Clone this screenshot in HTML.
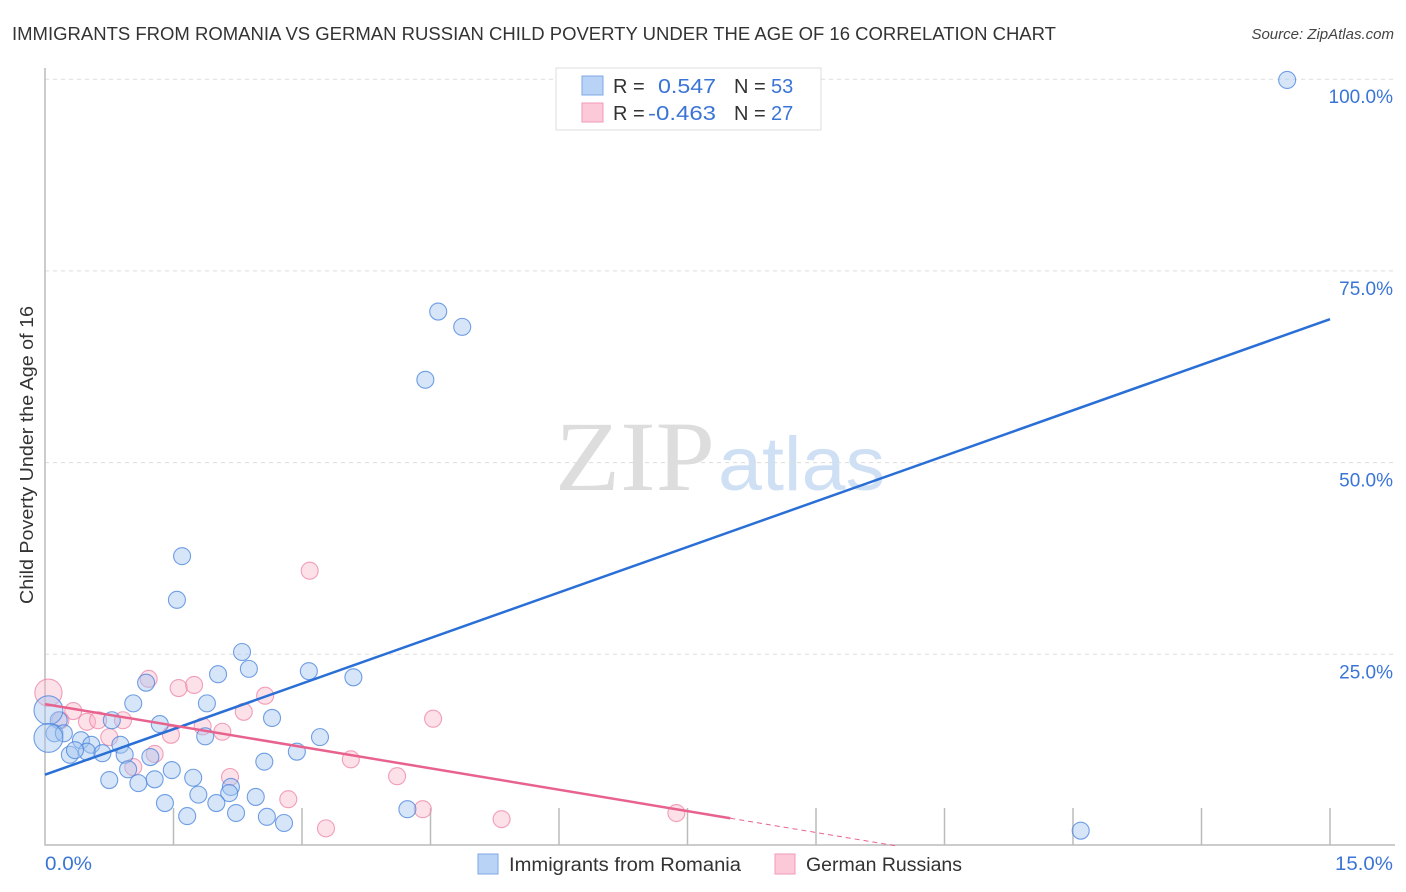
<!DOCTYPE html>
<html><head><meta charset="utf-8"><style>
body{margin:0;background:#fff;font-family:"Liberation Sans",sans-serif;}
svg{display:block}
</style></head><body>
<svg id="chart" width="1406" height="892">
<text x="12" y="40" font-size="18" fill="#333" textLength="1044" lengthAdjust="spacingAndGlyphs">IMMIGRANTS FROM ROMANIA VS GERMAN RUSSIAN CHILD POVERTY UNDER THE AGE OF 16 CORRELATION CHART</text>
<text x="1394" y="39" font-size="15" font-style="italic" fill="#444" text-anchor="end">Source: ZipAtlas.com</text>
<g>
<text x="555" y="490" font-size="100" font-family="Liberation Serif,serif" fill="#ddd" textLength="160" lengthAdjust="spacingAndGlyphs">ZIP</text>
<text x="718" y="490" font-size="76" fill="#cfe0f5" textLength="167" lengthAdjust="spacingAndGlyphs">atlas</text>
</g>
<g id="grid"></g>
<g id="axes"></g>
<g id="marks"></g>
<g>
<rect x="556" y="68" width="265" height="62" fill="#fff" stroke="#ddd"/>
<rect x="582" y="76" width="21" height="19" fill="#b8d3f5" stroke="#7fa9e6"/>
<rect x="582" y="103" width="21" height="19" fill="#fcc9d8" stroke="#f09ab4"/>
<text x="613" y="93" font-size="20" fill="#333">R =</text>
<text x="658" y="93" font-size="20" fill="#3a75d6" textLength="58" lengthAdjust="spacingAndGlyphs">0.547</text>
<text x="734" y="93" font-size="20" fill="#333">N =</text>
<text x="771" y="93" font-size="20" fill="#3a75d6">53</text>
<text x="613" y="120" font-size="20" fill="#333">R =</text>
<text x="648" y="120" font-size="20" fill="#3a75d6" textLength="68" lengthAdjust="spacingAndGlyphs">-0.463</text>
<text x="734" y="120" font-size="20" fill="#333">N =</text>
<text x="771" y="120" font-size="20" fill="#3a75d6">27</text>
</g>
<text transform="translate(33,455) rotate(-90)" font-size="18" fill="#333" text-anchor="middle" textLength="298" lengthAdjust="spacingAndGlyphs">Child Poverty Under the Age of 16</text>
<text x="45" y="870" font-size="19" fill="#3a75d6" textLength="47" lengthAdjust="spacingAndGlyphs">0.0%</text>
<text x="1393" y="870" font-size="19" fill="#3a75d6" text-anchor="end" textLength="58" lengthAdjust="spacingAndGlyphs">15.0%</text>
<g>
<rect x="478" y="854" width="20" height="20" fill="#b8d3f5" stroke="#7fa9e6"/>
<text x="509" y="871" font-size="19" fill="#333" textLength="232" lengthAdjust="spacingAndGlyphs">Immigrants from Romania</text>
<rect x="775" y="854" width="20" height="20" fill="#fcc9d8" stroke="#f09ab4"/>
<text x="806" y="871" font-size="19" fill="#333" textLength="156" lengthAdjust="spacingAndGlyphs">German Russians</text>
</g>
</svg>
<script>
const yTicks=[25,50,75,100];
const yTickLabels=["25.0%","50.0%","75.0%","100.0%"];
const blueX=[14.50,4.59,4.87,4.44,1.60,1.54,2.30,2.38,2.02,3.08,3.60,1.18,1.03,1.89,2.65,0.78,1.34,0.16,0.11,0.22,1.87,3.21,0.42,0.54,0.88,0.29,0.49,0.67,0.93,1.23,2.94,2.56,0.97,1.48,1.28,0.75,1.73,1.09,2.17,2.15,1.79,2.46,2.00,1.40,4.23,2.23,1.66,2.59,2.79,12.09,0.04,0.04,0.35];
const blueY=[99.9,69.7,67.7,60.8,37.8,32.1,25.3,23.1,22.4,22.8,22.0,21.3,18.6,18.6,16.7,16.4,15.9,16.4,14.7,14.7,14.3,14.2,13.8,13.2,13.2,11.9,12.3,12.1,11.9,11.6,12.3,11.0,10.0,9.9,8.7,8.6,8.9,8.2,7.7,6.9,6.7,6.4,5.6,5.6,4.8,4.3,3.9,3.8,3.0,2.0,17.7,14.1,12.5];
const blueW=[1,1,1,1,1,1,1,1,1,1,1,1,1,1,1,1,1,1,1,1,1,1,1,1,1,1,1,1,1,1,1,1,1,1,1,1,1,1,1,1,1,1,1,1,1,1,1,1,1,1,1.7,1.7,1];
const pinkX=[3.09,1.21,1.74,1.56,2.57,0.04,0.33,2.32,4.53,0.49,0.91,0.62,1.84,2.07,1.47,0.75,1.28,1.03,3.57,2.16,4.11,2.84,4.41,3.28,5.33,7.37,0.18];
const pinkY=[35.9,21.8,21.0,20.6,19.6,20.0,17.6,17.5,16.6,16.2,16.4,16.4,15.6,14.9,14.5,14.2,12.0,10.3,11.3,9.0,9.1,6.1,4.8,2.3,3.5,4.3,16.4];
const pinkW=[1,1,1,1,1,1.6,1,1,1,1,1,1,1,1,1,1,1,1,1,1,1,1,1,1,1,1,1];
const blueTrend=[9.3,68.7];
const pinkTrend=[18.5,-1.86];
const NS="http://www.w3.org/2000/svg";
const X=v=>45+v*(1285/15);
const Y=v=>846-v*7.668;
function mk(tag,attrs,parent){const e=document.createElementNS(NS,tag);for(const k in attrs)e.setAttribute(k,attrs[k]);parent.appendChild(e);return e;}
const grid=document.getElementById('grid'),axes=document.getElementById('axes'),marks=document.getElementById('marks');
yTicks.forEach((t,i)=>{
 const l=mk('line',{x1:45,x2:1395,y1:Y(t),y2:Y(t),stroke:'#ddd','stroke-dasharray':'4,4'},grid);
 
 
 const tx=mk('text',{x:1393,y:Y(t)+24,'font-size':19,fill:'#3a75d6','text-anchor':'end'},grid);
 tx.textContent=yTickLabels[i];
 
 
});
const ax=mk('path',{d:'M45,68V845H1395',stroke:'#bbb',fill:'none','stroke-width':1.5},axes);


for(let i=1;i<=10;i++){
 const t=mk('line',{x1:X(i*1.5),x2:X(i*1.5),y1:808,y2:845,stroke:'#bbb','stroke-width':1.5},axes);
 
 
}
function dots(xs,ys,ws,fill,stroke,name){
 xs.forEach((x,i)=>{
  const c=mk('circle',{cx:X(x),cy:Y(ys[i]),r:8.5*ws[i],fill:fill,stroke:stroke,'stroke-width':1.1},marks);
  
  
 });
}
dots(pinkX,pinkY,pinkW,'rgba(249,180,200,0.4)','rgba(236,130,165,0.75)','german-russians-point');
dots(blueX,blueY,blueW,'rgba(165,198,240,0.45)','rgba(70,130,220,0.75)','romania-point');
const bl=mk('line',{x1:X(0),y1:Y(blueTrend[0]),x2:X(15),y2:Y(blueTrend[1]),stroke:'#2a6fd6','stroke-width':2.5},marks);


const pe=8.0,pz=-pinkTrend[0]/pinkTrend[1];
const pl=mk('line',{x1:X(0),y1:Y(pinkTrend[0]),x2:X(pe),y2:Y(pinkTrend[0]+pinkTrend[1]*pe),stroke:'#e8628e','stroke-width':2.5},marks);


const pd=mk('line',{x1:X(pe),y1:Y(pinkTrend[0]+pinkTrend[1]*pe),x2:X(pz),y2:Y(0),stroke:'#e8628e','stroke-width':1,'stroke-dasharray':'5,4'},marks);


</script>
</body></html>
